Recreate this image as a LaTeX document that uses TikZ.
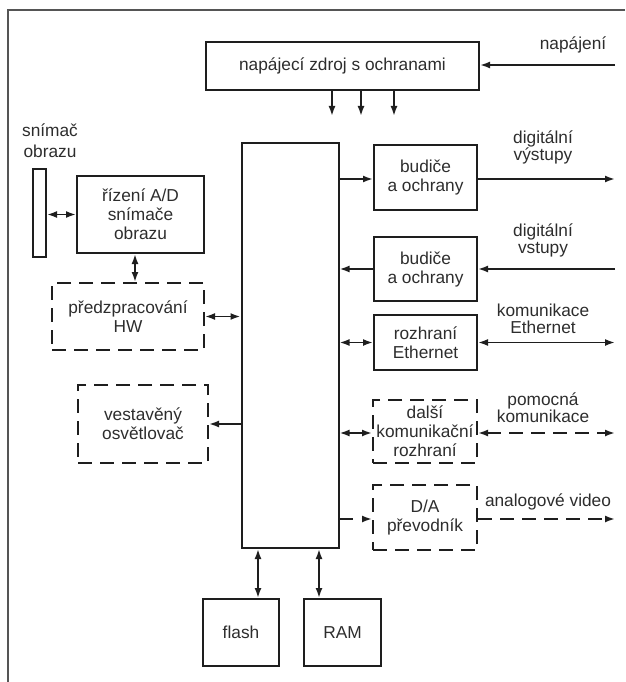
\documentclass[tikz,border=0pt]{standalone}
\usepackage{fontspec}
\setmainfont{Liberation Sans}
\usetikzlibrary{arrows.meta}
\definecolor{ink}{RGB}{30,30,30}
\definecolor{txt}{RGB}{45,45,45}
\definecolor{framec}{RGB}{85,85,85}
\tikzset{
  blk/.style={draw=ink, line width=2pt, align=center, inner sep=0pt, text=txt,
    font=\fontsize{17.3}{19}\selectfont},
  dblk/.style={blk, dash pattern=on 14pt off 8pt},
  lbl/.style={align=center, inner sep=0pt, text=txt, font=\fontsize{17.3}{17}\selectfont},
  con/.style={draw=ink, line width=1.9pt, -{Latex[length=10pt,width=7pt]}},
  bicon/.style={draw=ink, line width=1.9pt, {Latex[length=10pt,width=7pt]}-{Latex[length=10pt,width=7pt]}},
  dsh/.style={dash pattern=on 14pt off 8pt}
}
\begin{document}
\begin{tikzpicture}[x=1pt,y=-1pt]
\useasboundingbox (0,0) rectangle (625,682);
% frame
\coordinate (fr1) at (625,10);
\coordinate (fr2) at (8,10);
\coordinate (fr3) at (8,682);
\draw[framec, line width=1.8pt] (fr1) -- (fr2) -- (fr3);

% power supply
\node[blk, minimum width=273pt, minimum height=48pt] (pwr) at (342.5,66) {napájecí zdroj s ochranami};
\node[lbl] (lpwr) at (573,45) {napájení};
\coordinate (pin) at (615,65);
\draw[con] (pin) -- (pin -| pwr.east);
\coordinate (d1) at (332,116);
\coordinate (d2) at (361,116);
\coordinate (d3) at (394,116);
\draw[con] (pwr.south -| d1) -- (d1);
\draw[con] (pwr.south -| d2) -- (d2);
\draw[con] (pwr.south -| d3) -- (d3);

% central processor
\node[blk, minimum width=97pt, minimum height=405pt] (cpu) at (290,345.5) {};

% image sensor
\node[lbl, font=\fontsize{17.3}{21}\selectfont] (lsen) at (50,141) {snímač\\obrazu};
\node[blk, minimum width=13pt, minimum height=88pt] (sen) at (39.5,213) {};
\node[blk, minimum width=127pt, minimum height=77pt] (ad) at (140.5,214.5) {řízení A/D\\snímače\\obrazu};
\draw[bicon] (sen.east |- ad) -- (ad.west);

% preprocessing
\node[dblk, minimum width=152pt, minimum height=67pt] (pre) at (128,316.5) {předzpracování\\HW};
\coordinate (vx) at (135,0);
\draw[bicon] (ad.south -| vx) -- (pre.north -| vx);
\draw[bicon] (pre.east) -- (pre.east -| cpu.west);

% illuminator
\node[dblk, minimum width=130pt, minimum height=78pt] (light) at (143,424) {vestavěný\\osvětlovač};
\draw[con] (cpu.west |- light) -- (light.east);

% right side
\node[blk, minimum width=103pt, minimum height=65pt] (bud1) at (425.5,177.5) {budiče\\a ochrany};
\node[lbl] (lbud1) at (543,147) {digitální\\výstupy};
\coordinate (o1) at (615,179);
\draw[con] (cpu.east |- o1) -- (bud1.west |- o1);
\draw[con] (bud1.east |- o1) -- (o1);

\node[blk, minimum width=103pt, minimum height=64pt] (bud2) at (425.5,269) {budiče\\a ochrany};
\node[lbl] (lbud2) at (543,240) {digitální\\vstupy};
\coordinate (i2) at (615,269);
\draw[con] (i2) -- (bud2.east);
\draw[con] (bud2.west) -- (bud2.west -| cpu.east);

\node[blk, minimum width=103pt, minimum height=55pt] (eth) at (425.5,342.5) {rozhraní\\Ethernet};
\node[lbl] (leth) at (543,319) {komunikace\\Ethernet};
\coordinate (o3) at (615,342.5);
\draw[bicon] (cpu.east |- eth) -- (eth.west);
\draw[bicon] (eth.east) -- (o3);

\node[dblk, minimum width=104pt, minimum height=63pt] (dal) at (425,431.5) {další\\komunikační\\rozhraní};
\node[lbl] (ldal) at (543,408) {pomocná\\komunikace};
\coordinate (o4) at (615,433);
\draw[bicon] (cpu.east |- o4) -- (dal.west |- o4);
\draw[bicon, dsh] (dal.east |- o4) -- (o4);

\node[dblk, minimum width=104pt, minimum height=65pt] (da) at (425,517.5) {D/A\\převodník};
\node[lbl] (lda) at (548,502) {analogové video};
\coordinate (o5) at (615,519);
\draw[con, dash pattern=on 13pt off 9pt] (cpu.east |- o5) -- (da.west |- o5);
\draw[con, dsh] (da.east |- o5) -- (o5);

% memories
\node[blk, minimum width=76pt, minimum height=67pt] (flash) at (241,632.5) {flash};
\node[blk, minimum width=77pt, minimum height=67pt] (ram) at (342.5,632.5) {RAM};
\coordinate (fx) at (258,0);
\coordinate (rx) at (319,0);
\draw[bicon] (cpu.south -| fx) -- (flash.north -| fx);
\draw[bicon] (cpu.south -| rx) -- (ram.north -| rx);
\end{tikzpicture}
\end{document}
